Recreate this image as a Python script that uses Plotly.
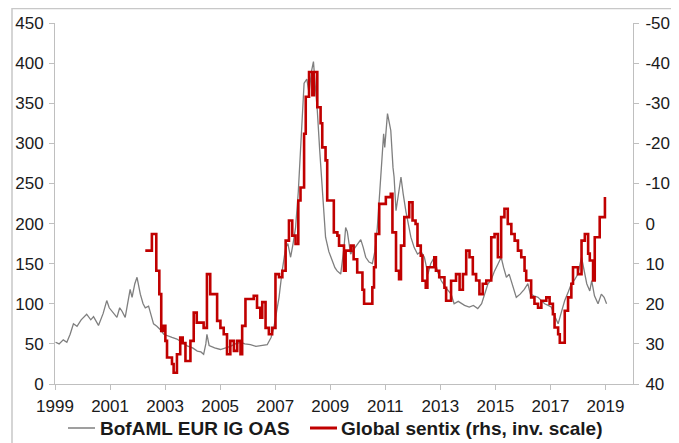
import plotly.graph_objects as go

# BofAML EUR IG OAS (lhs, bp) - decimal year, value
oas_year = [1999.02, 1999.15, 1999.30, 1999.43, 1999.55, 1999.67, 1999.80, 1999.95, 2000.15, 2000.30,
            2000.40, 2000.58, 2000.75, 2000.88, 2000.97, 2001.06, 2001.15, 2001.25, 2001.35, 2001.43,
            2001.55, 2001.65, 2001.73, 2001.80, 2001.90, 2001.98, 2002.10, 2002.20, 2002.28, 2002.40,
            2002.50, 2002.58, 2002.70, 2002.82, 2002.95, 2003.07, 2003.25, 2003.43, 2003.60, 2003.80,
            2004.00, 2004.17, 2004.30, 2004.40, 2004.48, 2004.52, 2004.60, 2004.80, 2005.01, 2005.20,
            2005.37, 2005.55, 2005.74, 2005.90, 2006.10, 2006.30, 2006.50, 2006.71, 2006.85, 2006.95,
            2007.05, 2007.14, 2007.25, 2007.38, 2007.46, 2007.56, 2007.65, 2007.74, 2007.84, 2007.92,
            2007.98, 2008.05, 2008.15, 2008.23, 2008.32, 2008.39, 2008.46, 2008.53, 2008.62, 2008.71,
            2008.77, 2008.83, 2008.95, 2009.07, 2009.17, 2009.25, 2009.38, 2009.50, 2009.56, 2009.62,
            2009.74, 2009.90, 2010.11, 2010.20, 2010.29, 2010.41, 2010.53, 2010.62, 2010.71, 2010.80,
            2010.84, 2010.90, 2010.94, 2010.98, 2011.08, 2011.15, 2011.20, 2011.28, 2011.32, 2011.39,
            2011.48, 2011.57, 2011.65, 2011.75, 2011.93, 2012.05, 2012.17, 2012.30, 2012.42, 2012.55,
            2012.65, 2012.78, 2012.90, 2013.03, 2013.20, 2013.39, 2013.50, 2013.65, 2013.88, 2014.05,
            2014.20, 2014.36, 2014.50, 2014.60, 2014.73, 2014.85, 2014.97, 2015.10, 2015.21, 2015.30,
            2015.40, 2015.50, 2015.60, 2015.76, 2015.90, 2016.05, 2016.18, 2016.27, 2016.40, 2016.55,
            2016.70, 2016.79, 2016.92, 2017.03, 2017.15, 2017.28, 2017.40, 2017.52, 2017.65, 2017.76,
            2017.88, 2018.00, 2018.13, 2018.22, 2018.32, 2018.43, 2018.50, 2018.60, 2018.73, 2018.85,
            2018.95, 2019.04]
oas_value = [52, 50, 55, 52, 62, 75, 72, 80, 87, 80,
             84, 73, 88, 104, 95, 91, 86, 83, 95, 91,
             83, 100, 118, 108, 125, 133, 112, 100, 95, 97,
             85, 75, 72, 68, 62, 60, 58, 56, 52, 47.5,
             45, 41, 40, 37, 50, 62, 48, 45, 43, 45,
             47, 50, 52, 50, 49, 47, 48, 49, 58, 70,
             90, 108, 140, 170, 175, 158, 175, 195, 240, 295,
             340, 375, 380, 363, 390, 402, 370, 341, 290, 241,
             205, 183, 165, 154, 145, 141, 137, 170, 195, 190,
             162, 170, 180, 170, 158, 152, 150, 165, 195, 240,
             262, 300, 312, 295, 337, 325, 316, 270, 258, 216,
             240, 258, 237, 215, 183, 170, 162, 165, 158, 137,
             150, 158, 140, 129, 120, 112, 100, 103, 98, 96,
             98, 94, 100, 110, 125, 130, 141, 150, 158, 145,
             133, 137, 125, 108, 112, 118, 125, 112, 110, 108,
             103, 100, 98, 96, 85, 75, 90, 104, 115, 125,
             130, 137, 158, 141, 125, 116, 129, 110, 100, 112,
             108, 100]

# Global sentix (rhs, inverted scale) - decimal year, value
sentix_year = [2002.28, 2002.52, 2002.68, 2002.79, 2002.86, 2002.93, 2003.01, 2003.07, 2003.25, 2003.31,
               2003.43, 2003.55, 2003.64, 2003.74, 2003.92, 2004.04, 2004.15, 2004.40, 2004.52, 2004.64,
               2004.89, 2005.01, 2005.13, 2005.25, 2005.37, 2005.50, 2005.62, 2005.74, 2005.80, 2005.92,
               2006.22, 2006.34, 2006.46, 2006.53, 2006.65, 2006.77, 2006.89, 2007.01, 2007.14, 2007.26,
               2007.38, 2007.50, 2007.62, 2007.74, 2007.84, 2007.92, 2008.05, 2008.11, 2008.23, 2008.35,
               2008.41, 2008.53, 2008.65, 2008.71, 2008.83, 2008.89, 2009.13, 2009.26, 2009.32, 2009.50,
               2009.56, 2009.75, 2009.85, 2009.98, 2010.17, 2010.23, 2010.53, 2010.59, 2010.65, 2010.78,
               2011.02, 2011.20, 2011.26, 2011.39, 2011.50, 2011.57, 2011.69, 2011.87, 2011.99, 2012.10,
               2012.17, 2012.29, 2012.35, 2012.47, 2012.53, 2012.78, 2012.84, 2012.96, 2013.15, 2013.21,
               2013.39, 2013.57, 2013.70, 2013.82, 2013.94, 2014.06, 2014.18, 2014.30, 2014.42, 2014.54,
               2014.67, 2014.85, 2014.97, 2015.09, 2015.21, 2015.33, 2015.45, 2015.58, 2015.70, 2015.82,
               2015.94, 2016.06, 2016.12, 2016.30, 2016.42, 2016.55, 2016.67, 2016.85, 2016.97, 2017.09,
               2017.15, 2017.28, 2017.34, 2017.52, 2017.64, 2017.76, 2017.82, 2018.00, 2018.13, 2018.25,
               2018.37, 2018.43, 2018.55, 2018.61, 2018.79, 2018.98]
sentix_value = [6.75, 2.6, 11.75, 17.6, 26.75, 25.5, 29.25, 33.4, 35, 37.2,
                32.6, 28.4, 29.8, 34.25, 29.25, 22.2, 24.7, 26, 12.6, 17.6,
                24.25, 26, 27.6, 32.6, 29.25, 31.75, 29.2, 32.6, 25.5, 18.8,
                18, 21, 23.5, 19.6, 26, 27.6, 26, 12.6, 13.4, 11.75,
                4.25, -0.75, 3, 5.1, -5.75, -9, -22.4, -31.6, -37.8, -32,
                -37.8, -29, -25, -19, -15.75, -5.75, 2.2, 3, 5.5, 11.75,
                6.75, 5.5, 8.9, 12.2, 16.5, 20, 15.9, 10.9, 2.6, -4.9,
                -6.6, -7.4, 2.2, 11.75, 13.9, 5.5, -1.6, -5.3, -0.75, 0.1,
                5.5, 8, 14.25, 16, 10.9, 8.4, 11.75, 13.4, 16, 19.25,
                14.25, 12.6, 16.5, 12.6, 6.75, 8.4, 12.6, 14.2, 17.6, 15,
                14.2, 3.4, 2.6, 8.4, -1.6, -3.7, 0.1, 2.6, 4.25, 6.75,
                8.4, 11.75, 14.2, 18.4, 20, 21, 19.25, 18.4, 20, 22.6,
                25.9, 27.6, 29.7, 21.75, 18.4, 15, 10.9, 12.6, 4.25, 2.6,
                7.5, 9.2, 14.2, 3.4, -1.6, -6.6]

series_names = ["BofAML EUR IG OAS", "Global sentix (rhs, inv. scale)"]
series_colors = ["#7f7f7f", "#c00000"]

x_ticks = [1999, 2001, 2003, 2005, 2007, 2009, 2011, 2013, 2015, 2017, 2019]
y_ticks = [0, 50, 100, 150, 200, 250, 300, 350, 400, 450]
y2_ticks = [-50, -40, -30, -20, -10, 0, 10, 20, 30, 40]

# The page body has an 8px margin, so the figure is drawn from (8, 8) in the window.
OFF = 8
W, H = 679 - OFF, 443 - OFF
ML, MR, MT, MB = 55 - OFF, 46, 23 - OFF, 443 - 384
pw = W - ML - MR
ph = H - MT - MB


def px_x(x):
    return (x - OFF - ML) / pw


def px_y(y):
    return ((H - MB) - (y - OFF)) / ph


fig = go.Figure()
fig.add_trace(go.Scatter(x=oas_year, y=oas_value, name=series_names[0], mode="lines",
                         line=dict(color=series_colors[0], width=1.3), yaxis="y"))
fig.add_trace(go.Scatter(x=sentix_year, y=sentix_value, name=series_names[1],
                         mode="lines", line=dict(color=series_colors[1], width=2.6, shape="hv"),
                         yaxis="y2"))

FONT = "Liberation Sans, Arial, sans-serif"
axis_font = dict(family=FONT, size=17, color="#1a1a1a")
common = dict(showgrid=False, zeroline=False, showline=True, linecolor="#bfbfbf", linewidth=1,
              ticks="outside", ticklen=5, tickcolor="#bfbfbf", tickfont=axis_font, automargin=False)
fig.update_layout(
    width=W, height=H,
    margin=dict(l=ML, r=MR, t=MT, b=MB, autoexpand=False),
    paper_bgcolor="white", plot_bgcolor="white",
    showlegend=False,
    xaxis=dict(range=[1999, 2020], tickmode="array", tickvals=x_ticks,
               ticktext=[str(v) for v in x_ticks], ticklabelstandoff=2, **common),
    yaxis=dict(range=[0, 450], tickmode="array", tickvals=y_ticks,
               ticktext=[str(v) for v in y_ticks], ticklabelstandoff=2, **common),
    yaxis2=dict(range=[40, -50], tickmode="array", tickvals=y2_ticks,
                ticktext=[str(v) for v in y2_ticks], overlaying="y", side="right",
                ticklabelstandoff=3, **common),
)

# outer frame (only top and left edges visible in the reference)
fig.add_shape(type="rect", xref="paper", yref="paper",
              x0=px_x(12), x1=px_x(720), y0=px_y(500), y1=px_y(8.5),
              line=dict(color="#c8c8c8", width=1.5), fillcolor="rgba(0,0,0,0)", layer="below")

# legend drawn below the plot
legend_y = px_y(428)
leg_items = [(68, 95, 98, 1.5), (310, 337, 339, 3)]
for (lx0, lx1, tx, lw), name, col in zip(leg_items, series_names, series_colors):
    fig.add_shape(type="line", xref="paper", yref="paper", x0=px_x(lx0), x1=px_x(lx1),
                  y0=legend_y, y1=legend_y, line=dict(color=col, width=lw))
    fig.add_annotation(xref="paper", yref="paper", x=px_x(tx), y=legend_y, text=name,
                       showarrow=False, xanchor="left", yanchor="middle",
                       font=dict(family=FONT, size=19, color="#1a1a1a", weight="bold"))

fig.write_html("out.html")
